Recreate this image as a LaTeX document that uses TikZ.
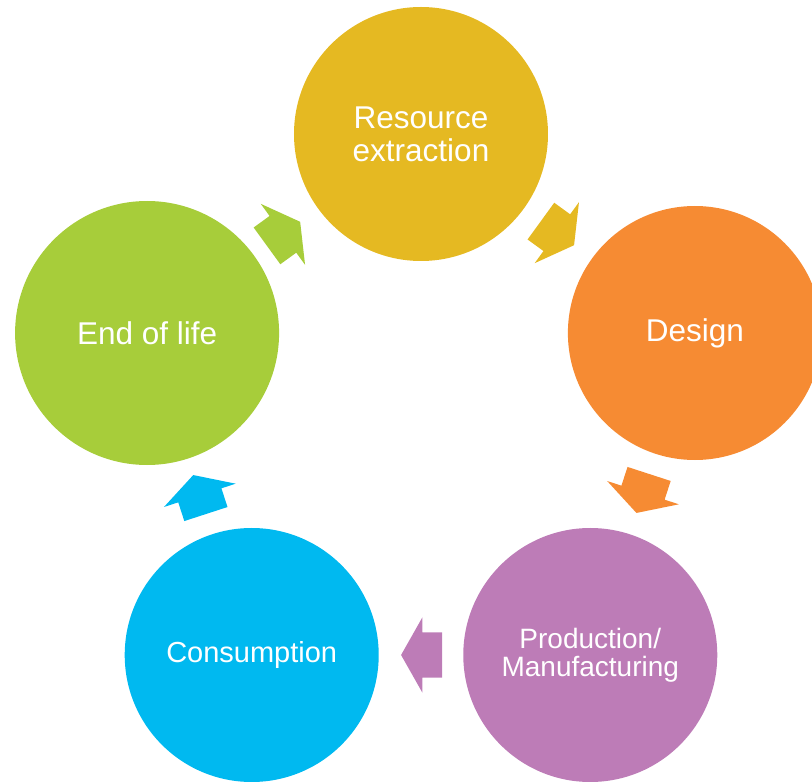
\documentclass[tikz,border=0pt]{standalone}
\usepackage{fontspec}
\setmainfont{Liberation Sans}
\usetikzlibrary{shapes.arrows,calc}

\definecolor{resyellow}{RGB}{229,185,34}
\definecolor{desorange}{RGB}{246,139,51}
\definecolor{prodpurple}{RGB}{189,124,183}
\definecolor{consblue}{RGB}{0,185,240}
\definecolor{eolgreen}{RGB}{167,205,58}

\begin{document}
\begin{tikzpicture}[
  x=1pt, y=1pt,
  stage/.style={circle, fill=#1, text=white, minimum size=254pt, inner sep=0pt,
    align=center, font=\fontsize{31.5}{33}\selectfont},
  flow/.style={single arrow, fill=#1, draw=none, inner sep=0pt,
    text width=0pt, text height=22.5pt, text depth=22.5pt,
    minimum height=41pt, minimum width=75pt,
    single arrow head extend=15pt, single arrow tip angle=121}
]
\useasboundingbox (-421,-360) rectangle (391,422);

% the five stages, on a pentagon
\node[stage=resyellow] (res) at (90:288) {Resource\\extraction};
\node[stage=desorange] (des) at (18:288) {Design};
\node[stage=prodpurple, font=\fontsize{28}{28}\selectfont] (prod) at (-54:288) {Production/\\Manufacturing};
\node[stage=consblue, font=\fontsize{29}{29}\selectfont] (cons) at (-126:288) {Consumption};
\node[stage=eolgreen, minimum size=264pt] (eol) at (162:288) {End of life};

% block arrows between neighbours
\foreach \a/\b/\c/\r in {res/des/resyellow/-36, des/prod/desorange/-108,
  prod/cons/prodpurple/180, cons/eol/consblue/108, eol/res/eolgreen/36} {
  \node[flow=\c, rotate=\r] (arr-\a) at ($(\a)!0.5!(\b)!7pt!(\a)$) {};
}

\end{tikzpicture}
\end{document}
